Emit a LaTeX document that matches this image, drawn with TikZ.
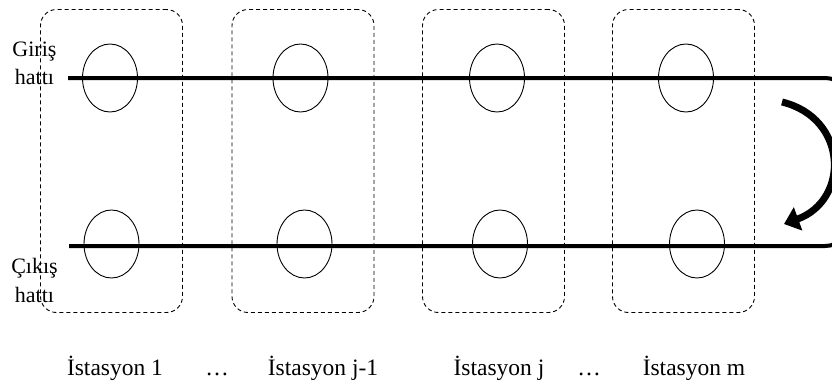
\documentclass[tikz,border=0pt]{standalone}
\usepackage{fontspec}
\setmainfont{Liberation Serif}
\usetikzlibrary{positioning,shapes.geometric,arrows.meta}

\begin{document}
\begin{tikzpicture}[x=1pt,y=-1pt,
    every node/.style={font=\fontsize{22}{28}\selectfont},
    station/.style={draw, dash pattern=on 4pt off 3pt, line width=0.9pt, rounded corners=16pt,
      minimum width=142pt, minimum height=303pt, inner sep=0pt},
    machine/.style={draw, ellipse, line width=0.9pt, minimum width=55pt, minimum height=68pt, inner sep=0pt},
    flow/.style={line width=4pt},
    stlabel/.style={anchor=base, font=\fontsize{23.5}{28}\selectfont}]
  \useasboundingbox (0,0) rectangle (832,383);
  \clip (0,0) rectangle (832,383);

  % istasyonlar
  \node (st1) [station] at (111.5,161) {};
  \node (st2) [station] at (303,161) {};
  \node (st3) [station] at (493.5,161) {};
  \node (st4) [station] at (683.5,161) {};

  % makineler
  \node (m1u) [machine] at (110,78) {};
  \node (m2u) [machine] at (300.5,78) {};
  \node (m3u) [machine] at (497,78) {};
  \node (m4u) [machine] at (686,78) {};
  \node (m1d) [machine] at (111.5,244) {};
  \node (m2d) [machine] at (304.5,244) {};
  \node (m3d) [machine] at (500,244) {};
  \node (m4d) [machine] at (697,244) {};

  % hatlar
  \coordinate (inS) at (68,78);
  \coordinate (inE) at (850,78);
  \coordinate (outS) at (69,246);
  \coordinate (outE) at (850,246);
  \draw[flow, rounded corners=25pt] (inS) -- (inE) -- ++(0,40);
  \draw[flow, rounded corners=25pt] (outS) -- (outE) -- ++(0,-40);

  % donus oku
  \coordinate (turnA) at (782,102);
  \coordinate (turnB) at (784,224);
  \draw[line width=7pt, -{Triangle[length=15pt,width=24pt]}]
    (turnA) .. controls (848,118) and (850,200) .. (turnB);

  % etiketler
  \node (giris) [align=center, anchor=base] at (34.5,84) {Giriş\\[0pt]hattı};
  \node (cikis) [align=center, anchor=base] at (34.5,302) {Çıkış\\[1pt]hattı};

  \node (lab1) [stlabel] at (115,375) {İstasyon 1};
  \node (dot1) [stlabel] at (217,375) {\dots};
  \node (lab2) [stlabel] at (323,375) {İstasyon j-1};
  \node (lab3) [stlabel] at (499,375) {İstasyon j};
  \node (dot2) [stlabel] at (589,375) {\dots};
  \node (lab4) [stlabel] at (694,375) {İstasyon m};
\end{tikzpicture}
\end{document}
